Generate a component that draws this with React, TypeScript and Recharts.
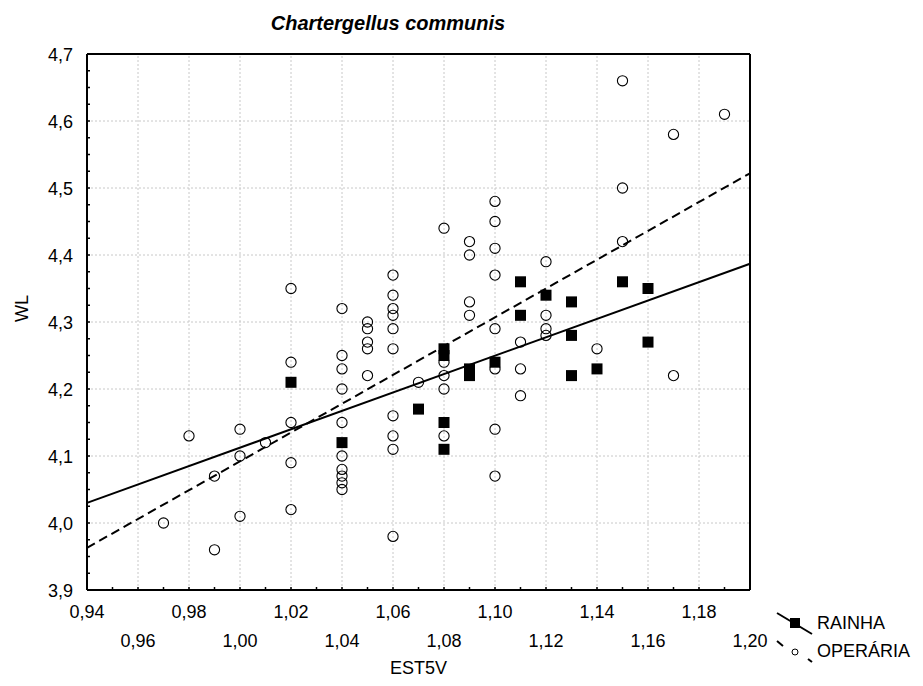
import { ReferenceLine, Scatter, ScatterChart, XAxis, YAxis } from "recharts";

const FONT = '"Liberation Sans", Arial, sans-serif';

// [EST5V, WL]
const operaria: [number, number][] = [
  [0.97, 4.0],
  [0.98, 4.13],
  [0.99, 4.07], [0.99, 3.96],
  [1.0, 4.14], [1.0, 4.1], [1.0, 4.01],
  [1.01, 4.12],
  [1.02, 4.35], [1.02, 4.24], [1.02, 4.15], [1.02, 4.09], [1.02, 4.02],
  [1.04, 4.32], [1.04, 4.25], [1.04, 4.23], [1.04, 4.2], [1.04, 4.15],
  [1.04, 4.1], [1.04, 4.08], [1.04, 4.07], [1.04, 4.06], [1.04, 4.05],
  [1.05, 4.3], [1.05, 4.29], [1.05, 4.27], [1.05, 4.26], [1.05, 4.22],
  [1.06, 4.37], [1.06, 4.34], [1.06, 4.32], [1.06, 4.31], [1.06, 4.29],
  [1.06, 4.26], [1.06, 4.16], [1.06, 4.13], [1.06, 4.11], [1.06, 3.98],
  [1.07, 4.21],
  [1.08, 4.44], [1.08, 4.24], [1.08, 4.22], [1.08, 4.2], [1.08, 4.13],
  [1.09, 4.42], [1.09, 4.4], [1.09, 4.33], [1.09, 4.31],
  [1.1, 4.48], [1.1, 4.45], [1.1, 4.41], [1.1, 4.37], [1.1, 4.29],
  [1.1, 4.23], [1.1, 4.14], [1.1, 4.07],
  [1.11, 4.27], [1.11, 4.23], [1.11, 4.19],
  [1.12, 4.39], [1.12, 4.31], [1.12, 4.29], [1.12, 4.28],
  [1.14, 4.26],
  [1.15, 4.66], [1.15, 4.5], [1.15, 4.42],
  [1.17, 4.58], [1.17, 4.22],
  [1.19, 4.61],
];

const rainha: [number, number][] = [
  [1.02, 4.21],
  [1.04, 4.12],
  [1.07, 4.17],
  [1.08, 4.26], [1.08, 4.25], [1.08, 4.15], [1.08, 4.11],
  [1.09, 4.23], [1.09, 4.22],
  [1.1, 4.24],
  [1.11, 4.36], [1.11, 4.31],
  [1.12, 4.34],
  [1.13, 4.33], [1.13, 4.28], [1.13, 4.22],
  [1.14, 4.23],
  [1.15, 4.36],
  [1.16, 4.35], [1.16, 4.27],
];

// fitted lines, end points at the axis limits
const rainhaFit: [number, number][] = [[0.94, 4.03], [1.2, 4.387]];
const operariaFit: [number, number][] = [[0.94, 3.963], [1.2, 4.522]];

const xTicks = [
  0.94, 0.95, 0.96, 0.97, 0.98, 0.99, 1.0, 1.01, 1.02, 1.03, 1.04, 1.05, 1.06, 1.07,
  1.08, 1.09, 1.1, 1.11, 1.12, 1.13, 1.14, 1.15, 1.16, 1.17, 1.18, 1.19, 1.2,
];
const yTicks = [
  3.9, 3.925, 3.95, 3.975, 4.0, 4.025, 4.05, 4.075, 4.1, 4.125, 4.15, 4.175, 4.2,
  4.225, 4.25, 4.275, 4.3, 4.325, 4.35, 4.375, 4.4, 4.425, 4.45, 4.475, 4.5, 4.525,
  4.55, 4.575, 4.6, 4.625, 4.65, 4.675, 4.7,
];
const xGrid = [0.96, 0.98, 1.0, 1.02, 1.04, 1.06, 1.08, 1.1, 1.12, 1.14, 1.16, 1.18];
const yGrid = [4.0, 4.1, 4.2, 4.3, 4.4, 4.5, 4.6];

const toPoints = (rows: [number, number][]) => rows.map(([x, y]) => ({ x, y }));
const comma = (v: number, d: number) => v.toFixed(d).replace(".", ",");

function BottomTick(props: any) {
  const { x, y, payload } = props;
  const v: number = payload.value;
  const hundredths = Math.round(v * 100);
  const major = hundredths % 2 === 0;
  const row = Math.round((hundredths - 94) / 2) % 2;
  return (
    <g>
      <line x1={x} x2={x} y1={y} y2={y - 3} stroke="#000" strokeWidth={1.5} />
      {major && (
        <text x={x} y={y + (row === 0 ? 28 : 57)} textAnchor="middle" fontSize={18} fill="#000" fontFamily={FONT}>
          {comma(v, 2)}
        </text>
      )}
    </g>
  );
}

function TopTick(props: any) {
  const { x, y } = props;
  return <line x1={x} x2={x} y1={y} y2={y + 3} stroke="#000" strokeWidth={1.5} />;
}

function LeftTick(props: any) {
  const { x, y, payload } = props;
  const v: number = payload.value;
  const major = Math.round(v * 1000) % 100 === 0;
  return (
    <g>
      <line x1={x} x2={x + 3} y1={y} y2={y} stroke="#000" strokeWidth={1.5} />
      {major && (
        <text x={x - 14} y={y + 6.5} textAnchor="end" fontSize={18} fill="#000" fontFamily={FONT}>
          {comma(v, 1)}
        </text>
      )}
    </g>
  );
}

function RightTick(props: any) {
  const { x, y } = props;
  return <line x1={x} x2={x - 3} y1={y} y2={y} stroke="#000" strokeWidth={1.5} />;
}

const OpenCircle = (p: any) => (
  <circle cx={p.cx} cy={p.cy} r={5.1} fill="none" stroke="#000" strokeWidth={1.1} />
);
const FilledSquare = (p: any) => (
  <rect x={p.cx - 5.5} y={p.cy - 5.5} width={11} height={11} fill="#000" />
);

export default function App() {
  const axisLine = { stroke: "#000", strokeWidth: 2 };
  return (
    <div style={{ position: "absolute", left: 0, top: 0, width: 923, height: 686, background: "#fff", fontFamily: FONT }}>
      <div
        style={{
          position: "absolute",
          left: 188,
          width: 400,
          top: 12,
          textAlign: "center",
          fontSize: 20,
          fontWeight: "bold",
          fontStyle: "italic",
          lineHeight: "22px",
        }}
      >
        Chartergellus communis
      </div>

      <ScatterChart width={923} height={686} margin={{ top: 53, right: 172, bottom: 10, left: 7 }}>
        <XAxis
          xAxisId="b"
          dataKey="x"
          type="number"
          domain={[0.94, 1.2]}
          ticks={xTicks}
          interval={0}
          height={86}
          tickSize={0}
          tickMargin={0}
          tickLine={false}
          axisLine={axisLine}
          tick={<BottomTick />}
          label={{ value: "EST5V", position: "insideBottom", offset: 2, fontSize: 18, fill: "#000", fontFamily: FONT }}
        />
        <XAxis
          xAxisId="t"
          orientation="top"
          dataKey="x"
          type="number"
          domain={[0.94, 1.2]}
          ticks={xTicks}
          interval={0}
          height={1}
          tickSize={0}
          tickMargin={0}
          tickLine={false}
          axisLine={axisLine}
          tick={<TopTick />}
        />
        <YAxis
          yAxisId="l"
          dataKey="y"
          type="number"
          domain={[3.9, 4.7]}
          ticks={yTicks}
          interval={0}
          width={80}
          tickSize={0}
          tickMargin={0}
          tickLine={false}
          axisLine={axisLine}
          tick={<LeftTick />}
          label={{ value: "WL", angle: -90, position: "insideLeft", offset: 15, fontSize: 18, fill: "#000", fontFamily: FONT }}
        />
        <YAxis
          yAxisId="r"
          orientation="right"
          dataKey="y"
          type="number"
          domain={[3.9, 4.7]}
          ticks={yTicks}
          interval={0}
          width={1}
          tickSize={0}
          tickMargin={0}
          tickLine={false}
          axisLine={axisLine}
          tick={<RightTick />}
        />

        {xGrid.map((v) => (
          <ReferenceLine key={"gx" + v} xAxisId="b" yAxisId="l" x={v} stroke="#c8c8c8" strokeDasharray="2 2" />
        ))}
        {yGrid.map((v) => (
          <ReferenceLine key={"gy" + v} xAxisId="b" yAxisId="l" y={v} stroke="#c8c8c8" strokeDasharray="2 2" />
        ))}

        <ReferenceLine
          xAxisId="b"
          yAxisId="l"
          segment={toPoints(rainhaFit)}
          stroke="#000"
          strokeWidth={2}
        />
        <ReferenceLine
          xAxisId="b"
          yAxisId="l"
          segment={toPoints(operariaFit)}
          stroke="#000"
          strokeWidth={2}
          strokeDasharray="9 5"
        />

        <Scatter
          name="OPERÁRIA"
          xAxisId="b"
          yAxisId="l"
          data={toPoints(operaria)}
          shape={OpenCircle}
          isAnimationActive={false}
        />
        <Scatter
          name="RAINHA"
          xAxisId="b"
          yAxisId="l"
          data={toPoints(rainha)}
          shape={FilledSquare}
          isAnimationActive={false}
        />
      </ScatterChart>

      <div style={{ position: "absolute", left: 775, top: 610, width: 148, height: 56, fontSize: 18 }}>
        <svg width={40} height={56} style={{ position: "absolute", left: 0, top: 0 }}>
          <line x1={2} y1={3} x2={37} y2={24} stroke="#000" strokeWidth={2} />
          <rect x={15} y={8} width={10} height={10} fill="#000" />
          <line x1={2} y1={31} x2={8} y2={36} stroke="#000" strokeWidth={2} />
          <circle cx={20} cy={42} r={3} fill="none" stroke="#000" strokeWidth={1} />
          <line x1={33} y1={49} x2={37} y2={52} stroke="#000" strokeWidth={2} />
        </svg>
        <div style={{ position: "absolute", left: 42, top: 3, lineHeight: "20px" }}>RAINHA</div>
        <div style={{ position: "absolute", left: 42, top: 31, lineHeight: "20px" }}>OPERÁRIA</div>
      </div>
    </div>
  );
}
